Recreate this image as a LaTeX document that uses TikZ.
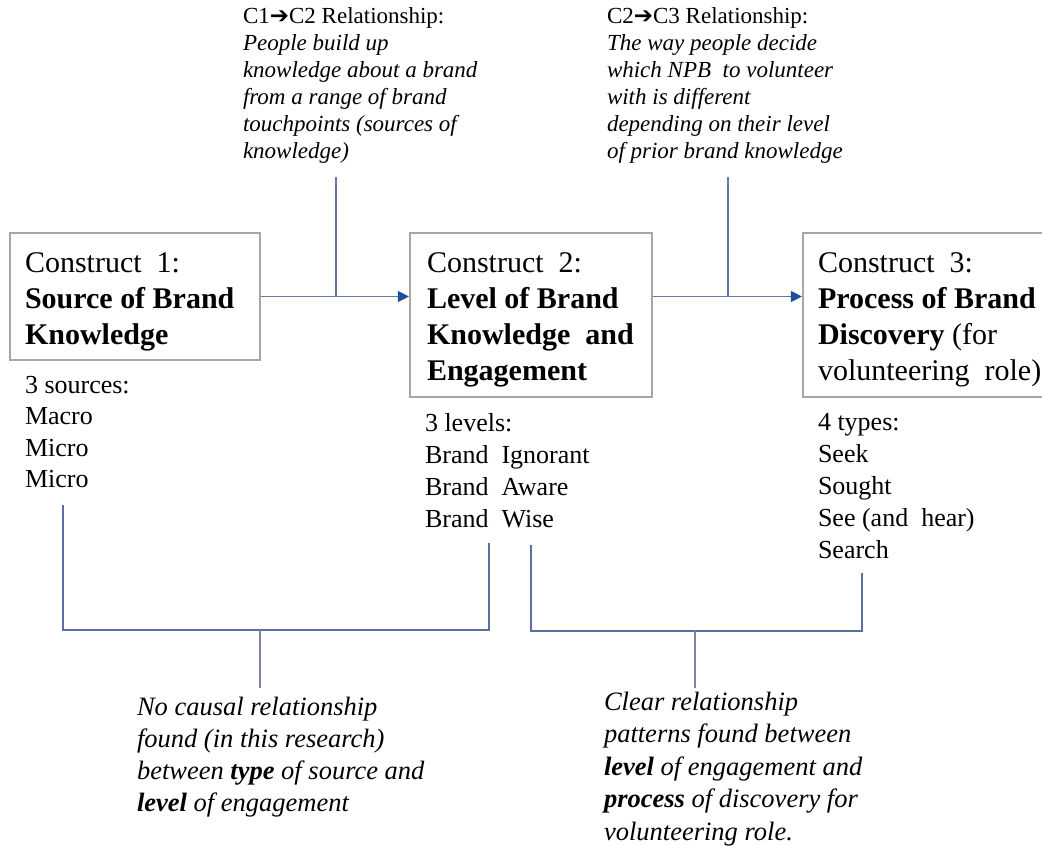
\documentclass[tikz,border=0pt]{standalone}
\usepackage{fontspec}
\setmainfont{Liberation Serif}
\newfontfamily\dejavu{DejaVu Sans}
\usetikzlibrary{arrows.meta}
\newcommand\mylines[2]{\vtop{\baselineskip=#1\lineskiplimit=-100pt\halign{##\hfil\cr#2\crcr}}}
\newcommand\rarr{{\dejavu\char"2794}}
\definecolor{boxgray}{HTML}{A6A6A6}
\definecolor{linkblue}{HTML}{6878A0}
\definecolor{tipblue}{HTML}{1F4E9C}
\definecolor{brkblue}{HTML}{5A70A0}
\definecolor{stemgray}{HTML}{7A869E}
\tikzset{
  cbox/.style={draw=boxgray, line width=2.2pt, fill=none, inner sep=0pt},
  txt/.style={anchor=base west, inner sep=0pt, outer sep=0pt, text=black},
  boxfont/.style={font=\fontsize{30}{36}\selectfont},
  listfont/.style={font=\fontsize{26}{32}\selectfont},
  notefont/.style={font=\fontsize{23}{27}\selectfont},
  botfont/.style={font=\fontsize{26.5}{32}\selectfont\itshape},
  link/.style={draw=linkblue, line width=1.2pt},
  linkarrow/.style={link, -{Triangle[length=11pt,width=11pt,fill=tipblue,color=tipblue]}},
  bracket/.style={draw=brkblue, line width=1.2pt},
  stem/.style={draw=stemgray, line width=1.2pt}
}
\begin{document}
\begin{tikzpicture}[x=1pt,y=-1pt]
\fill[white] (0,0) rectangle (1042,846);
\clip (0,0) rectangle (1042,846);

% boxes
\node[cbox, minimum width=250pt, minimum height=127pt] (b1) at (135,296.5) {};
\node[cbox, minimum width=242pt, minimum height=164pt] (b2) at (531,315) {};
\node[cbox, minimum width=257pt, minimum height=164pt] (b3) at (931.5,315) {};

% box texts
\node[txt, boxfont] (t1) at (25,272) {\mylines{36pt}{Construct\ \ 1:\cr\textbf{Source of Brand}\cr\textbf{Knowledge}}};
\node[txt, boxfont] (t2) at (427,272) {\mylines{36.3pt}{Construct\ \ 2:\cr\textbf{Level of Brand}\cr\textbf{Knowledge\ \ and}\cr\textbf{Engagement}}};
\node[txt, boxfont] (t3) at (818,272) {\mylines{36.3pt}{Construct\ \ 3:\cr\textbf{Process of Brand}\cr\textbf{Discovery} (for\cr volunteering\ \ role)}};

% lists
\node[txt, listfont] (l1) at (25,393) {\mylines{31.5pt}{3 sources:\cr Macro\cr Micro\cr Micro}};
\node[txt, listfont] (l2) at (425,431) {\mylines{32pt}{3 levels:\cr Brand\ \ Ignorant\cr Brand\ \ Aware\cr Brand\ \ Wise}};
\node[txt, listfont] (l3) at (818,430) {\mylines{32pt}{4 types:\cr Seek\cr Sought\cr See (and\ \ hear)\cr Search}};

% top notes
\node[txt, notefont] (n1) at (243,23) {\mylines{27pt}{C1\rarr C2 Relationship:\cr\itshape People build up\cr\itshape knowledge about a brand\cr\itshape from a range of brand\cr\itshape touchpoints (sources of\cr\itshape knowledge)}};
\node[txt, notefont] (n2) at (607,23) {\mylines{27pt}{C2\rarr C3 Relationship:\cr\itshape The way people decide\cr\itshape which NPB\ \ to volunteer\cr\itshape with is different\cr\itshape depending on their level\cr\itshape of prior brand knowledge}};

% bottom notes
\node[txt, botfont] (n3) at (137,715) {\mylines{32pt}{No causal relationship\cr found (in this research)\cr between \textbf{type} of source and\cr\textbf{level} of engagement}};
\node[txt, botfont] (n4) at (604,710) {\mylines{32.5pt}{Clear relationship\cr patterns found between\cr\textbf{level} of engagement and\cr\textbf{process} of discovery for\cr volunteering role.}};

% connectors between constructs
\coordinate (j1) at (336,177);
\coordinate (j2) at (728,177);
\draw[linkarrow] (b1.east) -- (b1.east -| b2.west);
\draw[link] (j1) -- (j1 |- b1.east);
\draw[linkarrow] (b2.east |- b1.east) -- (b3.west |- b1.east);
\draw[link] (j2) -- (j2 |- b1.east);

% bottom brackets
\coordinate (a1) at (63,505);
\coordinate (a2) at (489,543);
\coordinate (s1) at (260,630);
\coordinate (s1e) at (260,688);
\draw[bracket] (a1) -- (a1 |- s1) -- (a2 |- s1) -- (a2);
\draw[stem] (s1) -- (s1e);

\coordinate (c1) at (531,545);
\coordinate (c2) at (862,573);
\coordinate (s2) at (695,631);
\coordinate (s2e) at (695,688);
\draw[bracket] (c1) -- (c1 |- s2) -- (c2 |- s2) -- (c2);
\draw[stem] (s2) -- (s2e);
\end{tikzpicture}
\end{document}
